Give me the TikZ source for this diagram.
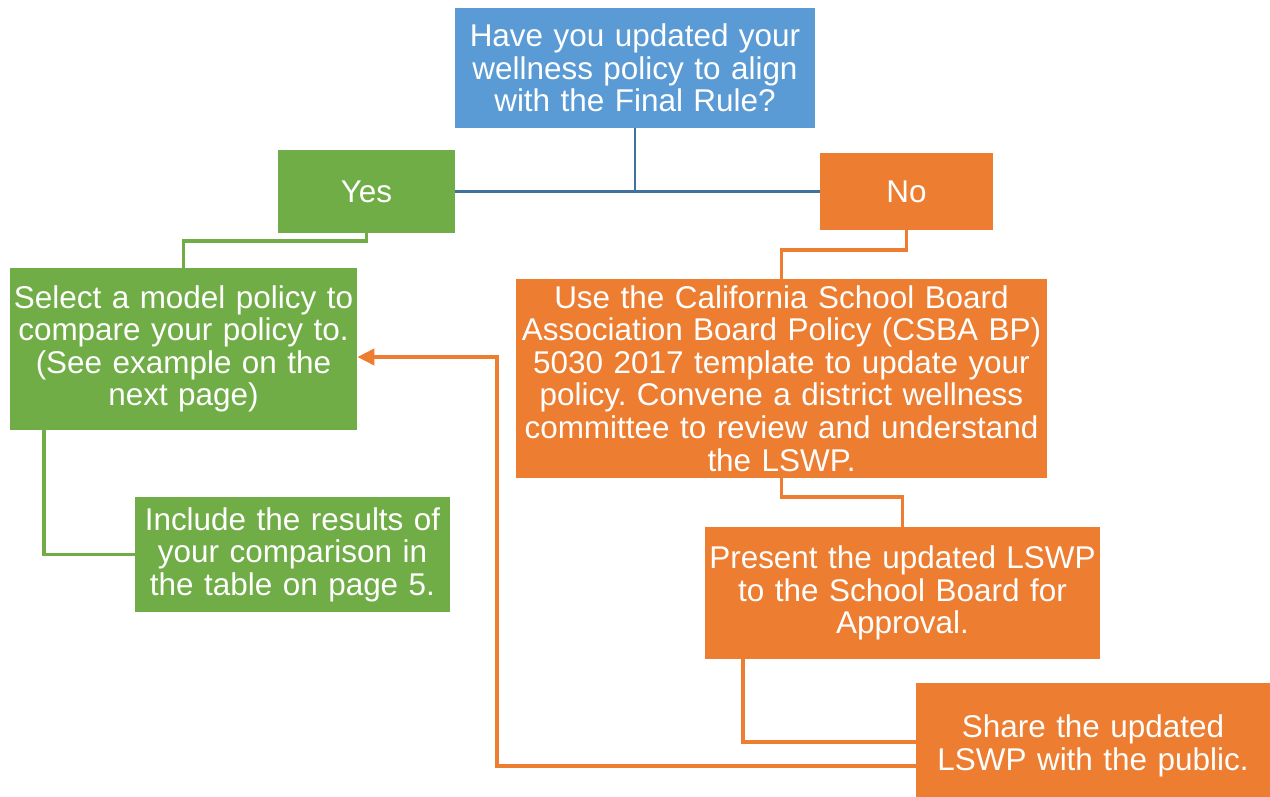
\documentclass[tikz,border=0pt]{standalone}
\usepackage{fontspec}
\setmainfont{Liberation Sans}
\usetikzlibrary{arrows.meta,calc}
\definecolor{qblue}{HTML}{5B9BD5}
\definecolor{lblue}{HTML}{41719C}
\definecolor{ogreen}{HTML}{70AD47}
\definecolor{oorange}{HTML}{ED7D31}
\frenchspacing
\tikzset{
  box/.style={rectangle, inner sep=0pt, text=white, align=center,
    font=\fontsize{17.9}{18.5}\selectfont},
  qbox/.style={box, fill=qblue},
  gbox/.style={box, fill=ogreen},
  obox/.style={box, fill=oorange},
  gline/.style={draw=ogreen, line width=2.2pt},
  oline/.style={draw=oorange, line width=2.2pt},
  bline/.style={draw=lblue, line width=1.4pt},
}
\begin{document}
\begin{tikzpicture}[x=0.02cm,y=-0.02cm]
\useasboundingbox (0,0) rectangle (1270,797);
\node[qbox, minimum width=7.2cm, minimum height=2.4cm, text width=7.2cm] (q) at (635,68)
  {Have you updated your\\wellness policy to align\\with the Final Rule?};
\node[gbox, minimum width=3.54cm, minimum height=1.66cm, text width=3.54cm] (yes) at (366.5,191.5) {Yes};
\node[obox, minimum width=3.46cm, minimum height=1.54cm, text width=3.46cm] (no) at (906.5,191.5) {No};
\node[gbox, minimum width=6.94cm, minimum height=3.24cm, text width=6.94cm] (select) at (183.5,349)
  {Select a model policy to\\compare your policy to.\\(See example on the\\next page)};
\node[gbox, minimum width=6.3cm, minimum height=2.3cm, text width=6.3cm] (include) at (292.5,554.5)
  {Include the results of\\your comparison in\\the table on page 5.};
\node[obox, minimum width=10.62cm, minimum height=3.98cm, text width=10.62cm] (use) at (781.5,378.5)
  {Use the California School Board\\Association Board Policy (CSBA BP)\\5030 2017 template to update your\\policy. Convene a district wellness\\committee to review and understand\\the LSWP.};
\node[obox, minimum width=7.9cm, minimum height=2.64cm, text width=7.9cm] (present) at (902.5,593)
  {Present the updated LSWP\\to the School Board for\\Approval.};
\node[obox, minimum width=7.08cm, minimum height=2.52cm, text width=7.08cm] (share) at (1093,746)
  {Share the updated\\LSWP with the public.};
\coordinate (turn) at (497,357);
% blue
\draw[bline] (yes.east) -- (no.west);
\draw[bline] (q.south) -- (q.south |- yes.east);
% green
\draw[gline] (yes.south) -- ++(0,8) -| (select.north);
\draw[gline] ([xshift=0.68cm]select.south west) |- (include.west);
% orange
\draw[oline] (no.south) -- ++(0,20) -| (use.north);
\draw[oline] (use.south) -- ++(0,19) -| (present.north);
\draw[oline] ([xshift=0.76cm]present.south west) |- ([yshift=0.08cm]share.west);
\draw[oline, -{Triangle[length=0.34cm,width=0.32cm]}] ([yshift=-0.4cm]share.west) -| (turn) -- (turn -| select.east);
\end{tikzpicture}
\end{document}
